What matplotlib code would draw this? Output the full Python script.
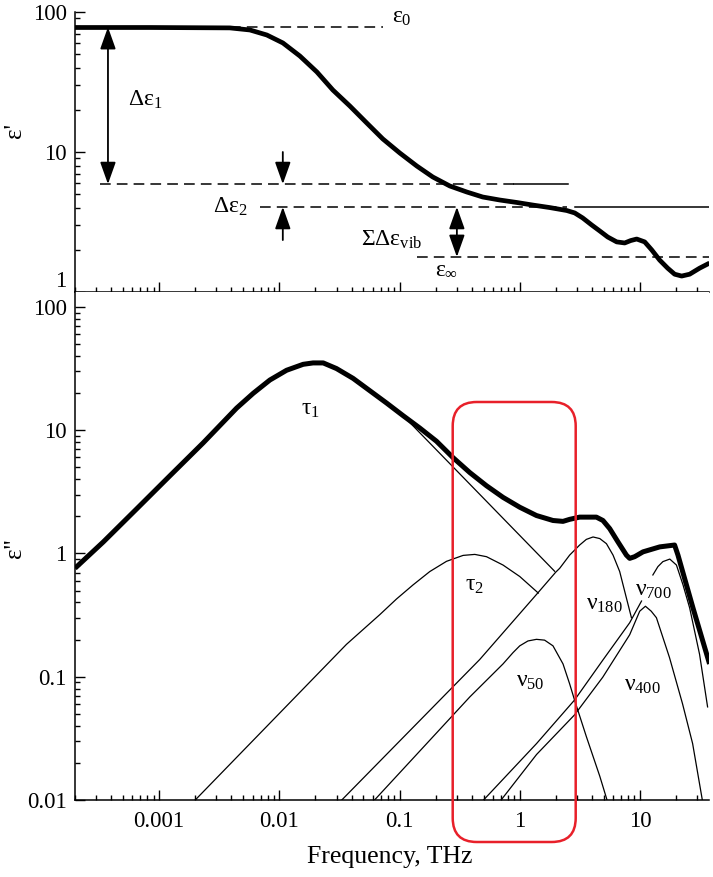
import numpy as np
import matplotlib.pyplot as plt
from matplotlib.patches import FancyBboxPatch
from matplotlib.transforms import IdentityTransform
from matplotlib.ticker import LogLocator, FixedLocator, FuncFormatter, NullFormatter

plt.rcParams['font.family'] = ['Liberation Serif', 'DejaVu Serif']
plt.rcParams['mathtext.fontset'] = 'custom'
plt.rcParams['mathtext.rm'] = 'Liberation Serif'
plt.rcParams['mathtext.it'] = 'Liberation Serif'
plt.rcParams['mathtext.bf'] = 'Liberation Serif:bold'

# ---- top panel: real part eps'
f_re = [2.0e-4, 8.4e-4, 3.88e-3, 5.70e-3, 7.88e-3, 0.01072, 0.01483, 0.02055, 0.02792,
        0.03864, 0.05346, 0.07261, 0.1005, 0.1393, 0.1891, 0.2618, 0.3624, 0.4921,
        0.6823, 0.9443, 1.282, 1.775, 2.459, 2.866, 3.339, 3.968, 4.626, 5.393, 6.403,
        7.46, 8.37, 9.39, 10.94, 12.51, 14.58, 16.99, 19.42, 22.22, 25.89, 31.33, 37.9]
eps_re = [77.5, 77.5, 77.0, 74.4, 68.5, 60.1, 48.5, 37.3, 27.7,
          21.3, 16.1, 12.4, 9.84, 7.94, 6.63, 5.72, 5.18, 4.77,
          4.54, 4.36, 4.18, 4.01, 3.82, 3.67, 3.38, 3.01, 2.73, 2.47, 2.28,
          2.24, 2.33, 2.39, 2.28, 2.0, 1.69, 1.48, 1.34, 1.30, 1.34, 1.48, 1.61]

eps_0 = 78
eps_1 = 5.9
eps_2 = 4.05
eps_inf = 1.78

# ---- bottom panel: imaginary part eps''
f_tot = [2.0e-4, 3.44e-4, 6.52e-4, 1.23e-3, 2.33e-3, 4.42e-3, 6.07e-3, 8.35e-3, 0.0115,
         0.0158, 0.0191, 0.0232, 0.0299, 0.0411, 0.0566, 0.0780, 0.1072, 0.1475, 0.203,
         0.279, 0.384, 0.529, 0.726, 1.0, 1.377, 1.89, 2.29, 2.60, 3.15, 4.34, 4.92,
         5.60, 6.56, 7.71, 8.21, 9.03, 10.6, 14.6, 19.4, 20.7, 27.6, 37.9]
eps_tot = [0.758, 1.24, 2.30, 4.26, 7.89, 15.1, 19.9, 25.5, 30.6,
           34.2, 35.1, 35.1, 31.6, 26.3, 20.9, 16.6, 13.1, 10.4, 8.13,
           5.98, 4.53, 3.54, 2.85, 2.37, 2.03, 1.85, 1.82, 1.89, 1.97, 1.97, 1.85,
           1.59, 1.24, 0.969, 0.912, 0.941, 1.03, 1.13, 1.17, 0.969, 0.361, 0.127]

f_tau1 = [0.1072, 1.95]
eps_tau1 = [13.1, 0.717]

f_tau2 = [0.002, 0.0362, 0.0686, 0.0944, 0.1297, 0.1786, 0.246, 0.338, 0.423, 0.529,
          0.726, 1.0, 1.377, 1.425]
eps_tau2 = [0.01, 0.183, 0.319, 0.427, 0.556, 0.713, 0.863, 0.964, 0.982, 0.941,
            0.805, 0.650, 0.492, 0.477]

f_nu180 = [0.0331, 0.465, 1.41, 1.99, 2.15, 2.60, 3.15, 3.58, 4.07, 4.63, 5.26, 5.97,
           6.78, 7.71, 8.49]
eps_nu180 = [0.01, 0.138, 0.477, 0.704, 0.758, 0.969, 1.17, 1.30, 1.36, 1.32, 1.20, 0.969,
             0.713, 0.435, 0.301]

f_nu50 = [0.062, 0.384, 0.726, 0.880, 1.0, 1.17, 1.377, 1.61, 1.89, 2.29, 2.60, 2.86,
          3.58, 4.63, 5.32]
eps_nu50 = [0.01, 0.0685, 0.127, 0.157, 0.178, 0.195, 0.201, 0.198, 0.178, 0.127, 0.0875,
            0.0644, 0.0327, 0.0156, 0.01]

f_nu700_a = [0.50, 1.38, 2.86, 4.90, 8.21, 10.3]
eps_nu700_a = [0.01, 0.0287, 0.0648, 0.136, 0.274, 0.411]
f_nu700_b = [12.8, 14.1, 15.5, 17.7, 20.1, 22.8, 25.9, 31.3, 36.5]
eps_nu700_b = [0.669, 0.782, 0.858, 0.900, 0.805, 0.556, 0.361, 0.152, 0.0569]

f_nu400 = [0.70, 1.38, 2.86, 4.90, 8.21, 9.95, 11.1, 12.4, 13.7, 17.6, 22.6, 27.4, 33.0]
eps_nu400 = [0.01, 0.0234, 0.0491, 0.099, 0.219, 0.340, 0.373, 0.340, 0.301, 0.143,
             0.0602, 0.0287, 0.01]

x_lim = (2.0e-4, 37.5)
box_f = (0.277, 2.92)

W, H = 713, 877
fig = plt.figure(figsize=(W / 100, H / 100), dpi=100)
ax1 = fig.add_axes([75 / W, 1 - 292 / H, 634 / W, 280 / H])
ax2 = fig.add_axes([75 / W, 1 - 800 / H, 634 / W, 508 / H])

fmt = FuncFormatter(lambda v, _: f'{v:g}')
for ax in (ax1, ax2):
    ax.set_xscale('log')
    ax.set_yscale('log')
    ax.set_xlim(*x_lim)
    for s in ('top', 'right'):
        ax.spines[s].set_visible(False)
    for s in ('left', 'bottom'):
        ax.spines[s].set_linewidth(1.1)
    ax.xaxis.set_major_locator(LogLocator(base=10, numticks=20))
    ax.xaxis.set_minor_locator(LogLocator(base=10, subs=range(2, 10), numticks=20))
    ax.yaxis.set_minor_locator(LogLocator(base=10, subs=range(2, 10), numticks=20))
    ax.xaxis.set_major_formatter(fmt)
    ax.yaxis.set_major_formatter(fmt)
    ax.xaxis.set_minor_formatter(NullFormatter())
    ax.yaxis.set_minor_formatter(NullFormatter())
    ax.tick_params(which='major', direction='in', length=7, width=1, labelsize=16.5, pad=6)
    ax.tick_params(which='minor', direction='in', length=3.5, width=1)
    ax.tick_params(axis='x', which='major', pad=8)

ax1.yaxis.set_major_locator(FixedLocator([1, 10, 100]))
ax2.yaxis.set_major_locator(FixedLocator([0.01, 0.1, 1, 10, 100]))
ax1.set_ylim(1, 100)
ax2.set_ylim(0.01, 132)
ax1.tick_params(axis='x', labelbottom=False)

# top panel
ax1.plot(f_re, eps_re, color='k', lw=3.4, solid_capstyle='butt', solid_joinstyle='round')
dash = dict(color='k', lw=1.1, dashes=(7, 4))
ax1.plot([3.9e-3, 0.0726], [eps_0, eps_0], **dash)
ax1.plot([3.2e-4, 0.9], [eps_1, eps_1], **dash)
ax1.plot([0.9, 2.5], [eps_1, eps_1], color='k', lw=1.1)
ax1.plot([6.9e-3, 2.46], [eps_2, eps_2], **dash)
ax1.plot([2.86, x_lim[1]], [eps_2, eps_2], color='k', lw=1.1)
ax1.plot([0.139, x_lim[1]], [eps_inf, eps_inf], **dash)

arr2 = dict(arrowstyle='<|-|>,head_length=0.9,head_width=0.32', color='k', lw=1.3,
            shrinkA=0, shrinkB=0, mutation_scale=15)
arr1 = dict(arrowstyle='-|>,head_length=0.9,head_width=0.32', color='k', lw=1.3,
            shrinkA=0, shrinkB=0, mutation_scale=15)
ax1.annotate('', xy=(3.76e-4, eps_0), xytext=(3.76e-4, eps_1), arrowprops=arr2)
ax1.annotate('', xy=(0.0107, eps_1), xytext=(0.0107, 10), arrowprops=arr1)
ax1.annotate('', xy=(0.0107, eps_2), xytext=(0.0107, 2.35), arrowprops=arr1)
ax1.annotate('', xy=(0.30, eps_2), xytext=(0.30, eps_inf), arrowprops=arr2)

lab = dict(fontsize=17, ha='center', va='center')
ax1.text(7.6e-4, 23.5, r'$Δε_1$', **lab)
ax1.text(3.9e-3, 4.05, r'$Δε_2$', **lab)
ax1.text(0.1045, 92, r'$ε_0$', **lab)
ax1.text(0.0863, 2.35, r'$ΣΔε_{\mathrm{vib}}$', **lab)
ax1.text(0.247, 1.46, r'$ε_{\infty}$', **lab)

# bottom panel
thin = dict(color='k', lw=0.9)
ax2.plot(f_tau1, eps_tau1, **thin)
ax2.plot(f_tau2, eps_tau2, **thin)
ax2.plot(f_nu180, eps_nu180, **thin)
ax2.plot(f_nu50, eps_nu50, **thin)
ax2.plot(f_nu700_a, eps_nu700_a, **thin)
ax2.plot(f_nu700_b, eps_nu700_b, **thin)
ax2.plot(f_nu400, eps_nu400, **thin)
ax2.plot(f_tot, eps_tot, color='k', lw=3.6, solid_capstyle='butt', solid_joinstyle='round')

ax2.text(0.0183, 14.6, r'$τ_1$', **lab)
ax2.text(0.423, 0.553, r'$τ_2$', **lab)
ax2.text(1.23, 0.092, r'$ν_{50}$', **lab)
ax2.text(5.09, 0.382, r'$ν_{180}$', **lab)
ax2.text(13.0, 0.504, r'$ν_{700}$', **lab)
ax2.text(10.5, 0.0855, r'$ν_{400}$', **lab)

fig.text(15 / W, 1 - 130 / H, "ε'", rotation=90, ha='center', va='center', fontsize=18)
fig.text(15 / W, 1 - 548 / H, "ε''", rotation=90, ha='center', va='center', fontsize=18)
fig.text(390 / W, 1 - 857 / H, 'Frequency, THz', ha='center', va='center', fontsize=18.5)

# red highlight box (pixel space)
x0 = ax2.transData.transform((box_f[0], 1))[0]
x1 = ax2.transData.transform((box_f[1], 1))[0]
y_top = H - 402
y_bot = H - 842
box = FancyBboxPatch((x0, y_bot), x1 - x0, y_top - y_bot,
                     boxstyle='round,pad=0,rounding_size=24',
                     fill=False, ec='#e8202a', lw=1.8,
                     transform=IdentityTransform(), zorder=10)
fig.add_artist(box)

# lift the lowest label of the top panel so it clears the "100" below
fig.canvas.draw()
for t in ax1.get_yticklabels():
    if t.get_text() == '1':
        t.set_va('bottom')

fig.savefig('out.png', dpi=100)
